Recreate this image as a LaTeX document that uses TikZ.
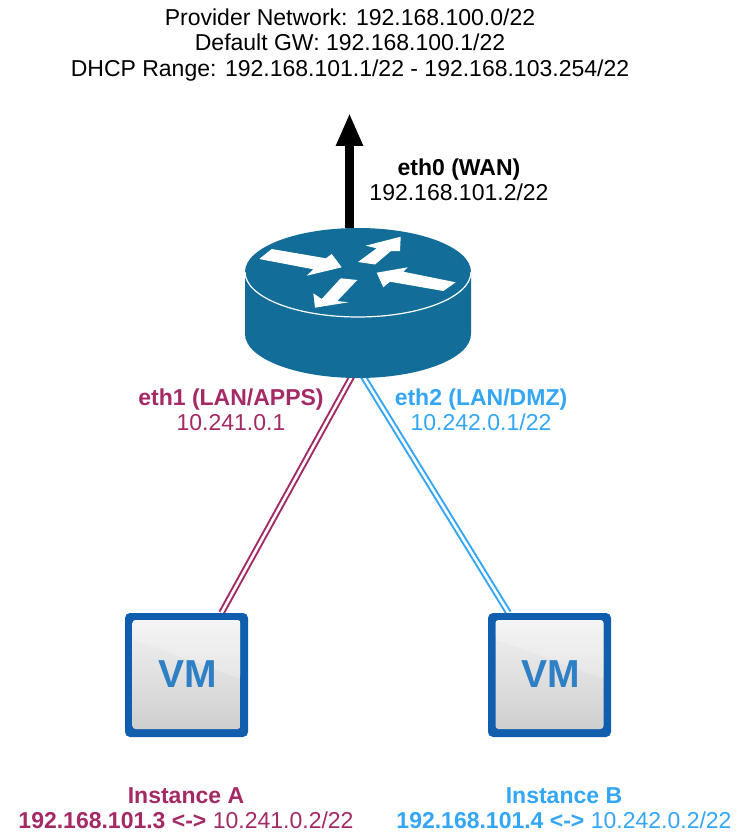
\documentclass[tikz,border=0pt]{standalone}
\usepackage{fontspec}
\setmainfont{Liberation Sans}
\usetikzlibrary{calc,arrows.meta}
\definecolor{routerblue}{HTML}{126D99}
\definecolor{appscol}{HTML}{A42A66}
\definecolor{dmzcol}{HTML}{33A6F5}
\definecolor{vmblue}{HTML}{0F5FAE}
\definecolor{vmtext}{HTML}{2E7FC4}
\tikzset{
  x=1pt,y=-1pt,
  lbl/.style={font=\fontsize{23}{25.5}\selectfont,align=center,inner sep=0pt,text=black},
  boxnode/.style={inner sep=0pt,minimum width=123,minimum height=124},
  vmlabel/.style={font=\bfseries\fontsize{39}{39}\selectfont,text=vmtext,inner sep=0pt},
  routerarrow/.style={fill=white,draw=none},
  link/.style={line width=2,double=white,double distance=2.6}
}
\newcommand{\vmbox}[1]{%
  \begin{scope}[shift={(#1)}]
    \fill[vmblue,rounded corners=5] (-61.5,-62) rectangle (61.5,62);
    \shade[top color=gray!10,bottom color=gray!38,rounded corners=3] (-54,-55) rectangle (54,54);
    \fill[white,opacity=.22,rounded corners=3] (-54,-55) -- (54,-55) -- (54,4) -- (-54,-36) -- cycle;
  \end{scope}}
\begin{document}
\begin{tikzpicture}
\useasboundingbox (0,0) rectangle (746,834);
\fill[white] (0,0) rectangle (746,834);
% nodes
\node[boxnode] (vmA) at (186.5,675) {};
\node[boxnode] (vmB) at (549.5,675) {};
\node[inner sep=0pt,minimum width=226,minimum height=150] (router) at (358,303) {};
\coordinate (upEnd) at (349.5,113);
\coordinate (upStart) at ($(router.north)+(-8.5,0)$);
\coordinate (pA) at ($(vmA.north)+(35,0)$);
\coordinate (pB) at ($(vmB.north)+(-41,0)$);
\coordinate (rA) at ($(router.south)+(-6,-2)$);
\coordinate (rB) at ($(router.south)+(5,-2)$);
% connectors
\draw[link,draw=appscol] (rA) -- (pA);
\draw[link,draw=dmzcol] (rB) -- (pB);
\draw[line width=8.5,-{Triangle[length=33,width=25]}] (upStart) -- (upEnd);
% router
\fill[routerblue] (245,272) -- (245,334) arc[start angle=180,end angle=0,x radius=113,y radius=44] -- (471,272) arc[start angle=360,end angle=180,x radius=113,y radius=44] -- cycle;
\draw[white,line width=1.2] (245,272) arc[start angle=180,end angle=0,x radius=113,y radius=45];
% router arrows
\fill[routerarrow] (259.3,259) -- (271.7,249) -- (326,258.3) -- (331.7,254) -- (341.7,267.3) -- (306.7,275.7) -- (313.3,269.3) -- cycle;
\fill[routerarrow] (400.7,236.7) -- (365.7,245.7) -- (376.7,248.3) -- (358,262) -- (375,264.5) -- (391,251) -- (400,251) -- cycle;
\fill[routerarrow] (376.7,272.7) -- (407.7,267.3) -- (403.3,271.7) -- (455.7,282.3) -- (443.3,291) -- (390,281.7) -- (383.3,287.3) -- cycle;
\fill[routerarrow] (340.7,278.3) -- (357.3,280) -- (337.3,301) -- (348.3,302.3) -- (315,307.7) -- (313.3,293.3) -- (321.7,299) -- cycle;
\vmbox{vmA}
\vmbox{vmB}
\node[vmlabel] at ($(vmA)+(1.5,-1)$) {VM};
\node[vmlabel] at ($(vmB)+(1.5,-1)$) {VM};
% labels
\node[lbl] (hdr) at (350,45) {Provider Network: 192.168.100.0/22\\Default GW: 192.168.100.1/22\\DHCP Range: 192.168.101.1/22 - 192.168.103.254/22};
\node[lbl] (wan) at (459,180) {\textbf{eth0 (WAN)}\\192.168.101.2/22};
\node[lbl,text=appscol] (lanA) at (231,410) {\textbf{eth1 (LAN/APPS)}\\10.241.0.1};
\node[lbl,text=dmzcol] (lanB) at (481,410) {\textbf{eth2 (LAN/DMZ)}\\10.242.0.1/22};
\node[lbl,text=appscol] (instA) at (186,808) {\textbf{Instance A}\\\textbf{192.168.101.3 <-> }10.241.0.2/22};
\node[lbl,text=dmzcol] (instB) at (564,808) {\textbf{Instance B}\\\textbf{192.168.101.4 <-> }10.242.0.2/22};
\end{tikzpicture}
\end{document}
